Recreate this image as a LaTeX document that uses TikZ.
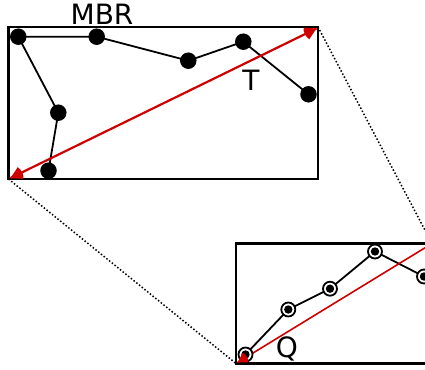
\documentclass[tikz,border=0pt]{standalone}
\usepackage{fontspec}
\setmainfont{DejaVu Sans}
\usetikzlibrary{calc}
\definecolor{arrred}{HTML}{D00000}
\tikzset{
  dot/.style={circle,fill=black,inner sep=0pt,minimum size=16.5pt},
  ring/.style={circle,draw=black,line width=1.8pt,fill=white,inner sep=0pt,minimum size=14pt,
    path picture={\fill[black] (path picture bounding box.center) circle (4.2pt);}},
  poly/.style={line width=1.8pt,black},
  frame/.style={line width=2.4pt,black},
  diag/.style={line width=2.2pt,arrred},
  zoomline/.style={line width=1.5pt,black,dotted},
  lbl/.style={font=\fontsize{28}{30}\selectfont,inner sep=0pt,anchor=base}
}
% wedge arrow head at #1 pointing away from #2
\newcommand{\wedgehead}[3]{%
  \path let \p1=($(#2)-(#1)$), \n1={atan2(\y1,\x1)} in
    [fill=arrred] (#1) -- ++(\n1-30:#3) arc[start angle=\n1-30, end angle=\n1+30, radius=#3] -- cycle;}
\begin{document}
\begin{tikzpicture}[x=1pt,y=-1pt]
\useasboundingbox (0,0) rectangle (425,369);
\clip (0,0) rectangle (425,369);
% top MBR corners
\coordinate (tl) at (8.5,27);
\coordinate (tr) at (318,27);
\coordinate (bl) at (8.5,179);
\coordinate (br) at (318,179);
% Q rectangle corners
\coordinate (qtl) at (236,243.5);
\coordinate (qtr) at (432,243.5);
\coordinate (qbl) at (236,363.5);
\coordinate (qbr) at (432,363.5);
% zoom lines
\draw[zoomline] (tr) -- (qtr);
\draw[zoomline] (bl) -- (qbl);
% frames
\draw[frame] (tl) -- (tr) -- (br) -- (bl) -- cycle;
\draw[frame,fill=white] (qtl) -- (qtr) -- (qbr) -- (qbl) -- cycle;
% top trajectory
\coordinate (a1) at (18.3,36.7);
\coordinate (a2) at (96.7,36.7);
\coordinate (a3) at (188.3,60.7);
\coordinate (a4) at (243.3,41.7);
\coordinate (a5) at (308.5,94.3);
\coordinate (a6) at (58.3,112.7);
\coordinate (a7) at (48.5,170.7);
\draw[poly] (a1) -- (a2) -- (a3) -- (a4) -- (a5);
\draw[poly] (a1) -- (a6) -- (a7);
\foreach \n in {a1,a2,a3,a4,a5,a6,a7} \node[dot] (d\n) at (\n) {};
% diagonal
\coordinate (tip1) at (10.5,178);
\coordinate (tip2) at (316.5,28.5);
\draw[diag] (tip1) -- (tip2);
\wedgehead{tip1}{tip2}{13pt}
\wedgehead{tip2}{tip1}{13pt}
% bottom trajectory
\coordinate (b1) at (245.5,354.5);
\coordinate (b2) at (288.3,309.5);
\coordinate (b3) at (330,288.7);
\coordinate (b4) at (375,251.5);
\coordinate (b5) at (424,276.5);
\draw[poly] (b1) -- (b2) -- (b3) -- (b4) -- (b5);
\coordinate (tip3) at (237.5,362.5);
\draw[line width=1.6pt,arrred] (qtr) -- (tip3);
\foreach \n in {b1,b2,b3,b4,b5} \node[ring] (r\n) at (\n) {};
\wedgehead{tip3}{qtr}{11pt}
% labels
\node[lbl] (mbr) at (102,25) {MBR};
\node[lbl] (t) at (251,90) {T};
\node[lbl] (q) at (287,357) {Q};
\end{tikzpicture}
\end{document}
